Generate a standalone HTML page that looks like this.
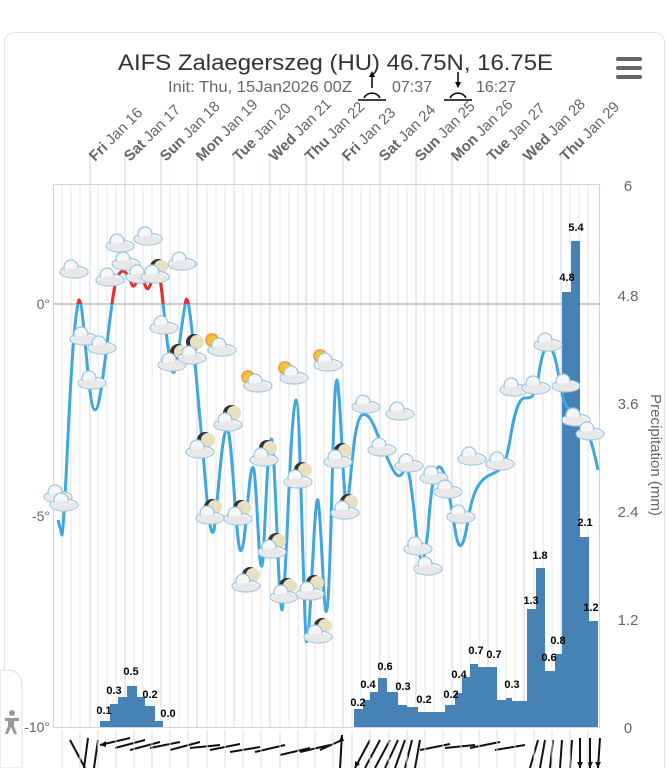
<!DOCTYPE html>
<html><head><meta charset="utf-8"><style>
html,body{margin:0;padding:0;background:#fff;}
svg{display:block;font-family:"Liberation Sans",sans-serif;}
</style></head><body>
<svg width="668" height="768" viewBox="0 0 668 768">
<defs>
<g id="c"><ellipse cx="0" cy="2" rx="14" ry="6" fill="#f4f6f8" stroke="#9ec6e0" stroke-width="1.2"/><circle cx="-3" cy="-3" r="7" fill="#f4f6f8" stroke="#9ec6e0" stroke-width="1.2"/><ellipse cx="0" cy="3" rx="13" ry="4.5" fill="#e8e8e8"/></g>
<g id="m"><circle r="8" fill="#333"/><circle cx="3" r="7" fill="#e8e0c0"/></g>
<g id="s"><circle r="7" fill="#f08a30" opacity="0.8"/><circle r="5" fill="#f7c522"/></g>
<clipPath id="top"><rect x="0" y="0" width="668" height="304"/></clipPath>
</defs>
<rect x="4.5" y="32.5" width="660" height="760" rx="10" fill="#fff" stroke="#e3e3e3"/>
<text x="118" y="70" font-size="22" fill="#333" textLength="435" lengthAdjust="spacingAndGlyphs">AIFS Zalaegerszeg (HU) 46.75N, 16.75E</text>
<text x="168" y="92" font-size="16" fill="#666" textLength="184" lengthAdjust="spacingAndGlyphs">Init: Thu, 15Jan2026 00Z</text>
<text x="392" y="92" font-size="16" fill="#666">07:37</text>
<text x="476" y="92" font-size="16" fill="#666">16:27</text>
<g stroke="#000" stroke-width="1.5" fill="none"><path d="M358 100h28M364 98a9 9 0 0 1 16 0M372 74v14M444 100h28M450 98a9 9 0 0 1 16 0M458 72v12"/></g>
<path d="M369 77l3-6 3 6zM455 82l3 6 3-6z" fill="#000"/>
<g fill="#666"><rect x="616" y="57" width="26" height="4" rx="2"/><rect x="616" y="66" width="26" height="4" rx="2"/><rect x="616" y="75" width="26" height="4" rx="2"/></g>
<g stroke="#e6e6e6" stroke-width="1">
<path d="M62 184V727M71 184V727M80 184V727M98 184V727M107 184V727M116 184V727M134 184V727M143 184V727M152 184V727M170 184V727M179 184V727M188 184V727M207 184V727M216 184V727M225 184V727M243 184V727M252 184V727M261 184V727M280 184V727M289 184V727M298 184V727M315 184V727M324 184V727M333 184V727M352 184V727M361 184V727M370 184V727M389 184V727M398 184V727M407 184V727M425 184V727M434 184V727M443 184V727M461 184V727M470 184V727M479 184V727M497 184V727M506 184V727M515 184V727M534 184V727M543 184V727M552 184V727M570 184V727M579 184V727M588 184V727"/>
</g>
<g stroke="#ccd6eb" stroke-width="1">
<path d="M90 155V727M125 155V727M161 155V727M197 155V727M234 155V727M270 155V727M306 155V727M343 155V727M380 155V727M416 155V727M452 155V727M488 155V727M524 155V727M561 155V727"/>
<rect x="53.5" y="184.5" width="546" height="543" fill="none"/>
</g>
<line x1="53" y1="304" x2="600" y2="304" stroke="#bbb" stroke-width="1.5"/>
<g font-size="15" fill="#666">
<g transform="translate(95,162) rotate(-45)"><text><tspan font-weight="bold">Fri</tspan> Jan 16</text></g>
<g transform="translate(130,162) rotate(-45)"><text><tspan font-weight="bold">Sat</tspan> Jan 17</text></g>
<g transform="translate(166,162) rotate(-45)"><text><tspan font-weight="bold">Sun</tspan> Jan 18</text></g>
<g transform="translate(202,162) rotate(-45)"><text><tspan font-weight="bold">Mon</tspan> Jan 19</text></g>
<g transform="translate(239,162) rotate(-45)"><text><tspan font-weight="bold">Tue</tspan> Jan 20</text></g>
<g transform="translate(275,162) rotate(-45)"><text><tspan font-weight="bold">Wed</tspan> Jan 21</text></g>
<g transform="translate(311,162) rotate(-45)"><text><tspan font-weight="bold">Thu</tspan> Jan 22</text></g>
<g transform="translate(348,162) rotate(-45)"><text><tspan font-weight="bold">Fri</tspan> Jan 23</text></g>
<g transform="translate(385,162) rotate(-45)"><text><tspan font-weight="bold">Sat</tspan> Jan 24</text></g>
<g transform="translate(421,162) rotate(-45)"><text><tspan font-weight="bold">Sun</tspan> Jan 25</text></g>
<g transform="translate(457,162) rotate(-45)"><text><tspan font-weight="bold">Mon</tspan> Jan 26</text></g>
<g transform="translate(493,162) rotate(-45)"><text><tspan font-weight="bold">Tue</tspan> Jan 27</text></g>
<g transform="translate(529,162) rotate(-45)"><text><tspan font-weight="bold">Wed</tspan> Jan 28</text></g>
<g transform="translate(566,162) rotate(-45)"><text><tspan font-weight="bold">Thu</tspan> Jan 29</text></g>
</g>
<g font-size="14" fill="#666" text-anchor="end">
<text x="50" y="309">0°</text><text x="50" y="521">-5°</text><text x="50" y="732">-10°</text>
</g>
<g font-size="15" fill="#666" text-anchor="middle">
<text x="628" y="191">6</text><text x="628" y="301">4.8</text><text x="628" y="409">3.6</text><text x="628" y="517">2.4</text><text x="628" y="625">1.2</text><text x="628" y="733">0</text>
</g>
<text transform="translate(651,455) rotate(90)" font-size="15" fill="#666" text-anchor="middle">Precipitation (mm)</text>
<g fill="#4682b4">
<rect x="100" y="721" width="10" height="6"/><rect x="110" y="704" width="8" height="23"/><rect x="118" y="697" width="9" height="30"/><rect x="127" y="686" width="10" height="41"/><rect x="137" y="697" width="8" height="30"/><rect x="145" y="706" width="10" height="21"/><rect x="155" y="721" width="8" height="6"/>
<rect x="354" y="709" width="9" height="18"/><rect x="363" y="700" width="7" height="27"/><rect x="370" y="692" width="8" height="35"/><rect x="378" y="678" width="9" height="49"/><rect x="387" y="692" width="11" height="35"/><rect x="398" y="705" width="9" height="22"/><rect x="407" y="707" width="11" height="20"/><rect x="418" y="712" width="27" height="15"/><rect x="445" y="705" width="10" height="22"/><rect x="455" y="693" width="7" height="34"/><rect x="462" y="677" width="8" height="50"/><rect x="470" y="664" width="8" height="63"/><rect x="478" y="667" width="19" height="60"/><rect x="497" y="700" width="9" height="27"/><rect x="506" y="698" width="6" height="29"/><rect x="512" y="701" width="15" height="26"/><rect x="527" y="609" width="9" height="118"/><rect x="536" y="568" width="9" height="159"/><rect x="545" y="671" width="10" height="56"/><rect x="555" y="654" width="7" height="73"/><rect x="562" y="292" width="9" height="435"/><rect x="571" y="241" width="9" height="486"/><rect x="580" y="537" width="9" height="190"/><rect x="589" y="621" width="9" height="106"/>
</g>
<g font-size="11" font-weight="bold" fill="#000" text-anchor="middle">
<text x="104" y="714">0.1</text><text x="114" y="694">0.3</text><text x="131" y="675">0.5</text><text x="150" y="698">0.2</text><text x="168" y="717">0.0</text>
<text x="358" y="706">0.2</text><text x="368" y="688">0.4</text><text x="385" y="670">0.6</text><text x="403" y="690">0.3</text><text x="424" y="703">0.2</text><text x="451" y="698">0.2</text><text x="459" y="678">0.4</text><text x="476" y="654">0.7</text><text x="494" y="658">0.7</text><text x="512" y="688">0.3</text><text x="531" y="604">1.3</text><text x="540" y="559">1.8</text><text x="549" y="661">0.6</text><text x="558" y="644">0.8</text><text x="567" y="281">4.8</text><text x="576" y="231">5.4</text><text x="585" y="526">2.1</text><text x="591" y="611">1.2</text>
</g>
<path id="t" fill="none" stroke="#3fa7e0" stroke-width="3" stroke-linejoin="round" d="M58 520 L62 535 C66 520 70 330 79 300 C84 300 88 410 95 410 C102 410 108 320 115 285 C120 265 126 268 132 285 C136 292 140 262 145 285 C150 300 153 265 158 270 C162 275 166 350 172 370 C176 385 180 330 186 300 C190 290 196 380 202 440 C206 490 210 545 214 530 C218 505 222 420 228 430 C232 440 236 540 240 550 C246 560 249 450 254 470 C258 500 259 590 263 560 C266 510 268 430 272 440 C276 470 278 600 282 610 C286 600 290 410 296 400 C300 400 302 560 306 640 C310 660 314 490 318 500 C322 520 324 650 328 600 C332 540 333 380 337 380 C341 390 343 520 348 500 C352 470 354 420 362 415 C372 410 378 440 386 455 C392 468 398 485 404 470 C408 460 411 480 416 530 C420 570 424 570 428 530 C431 490 434 465 440 467 C446 470 450 500 456 535 C460 555 464 545 468 520 C472 495 478 480 490 475 C500 470 505 470 510 440 C514 415 518 400 524 398 C530 398 534 400 538 380 C542 350 546 342 552 350 C558 360 560 395 566 405 C572 415 580 412 588 432 C592 444 596 460 598 470"/>
<path clip-path="url(#top)" fill="none" stroke="#e8302e" stroke-width="3" d="M58 520 L62 535 C66 520 70 330 79 300 C84 300 88 410 95 410 C102 410 108 320 115 285 C120 265 126 268 132 285 C136 292 140 262 145 285 C150 300 153 265 158 270 C162 275 166 350 172 370 C176 385 180 330 186 300 C190 290 196 380 202 440"/>
<use href="#c" x="74" y="270"/><use href="#c" x="110" y="278"/><use href="#c" x="120" y="244"/><use href="#c" x="148" y="237"/><use href="#c" x="126" y="262"/><use href="#c" x="140" y="275"/><use href="#c" x="182" y="262"/>
<use href="#m" x="158" y="267"/><use href="#c" x="155" y="275"/>
<use href="#c" x="84" y="337"/><use href="#c" x="102" y="346"/><use href="#c" x="92" y="381"/><use href="#c" x="164" y="326"/>
<use href="#m" x="178" y="352"/><use href="#m" x="194" y="342"/><use href="#c" x="172" y="363"/><use href="#c" x="192" y="356"/>
<use href="#s" x="212" y="340"/><use href="#c" x="222" y="348"/><use href="#s" x="248" y="377"/><use href="#c" x="258" y="384"/><use href="#s" x="285" y="368"/><use href="#c" x="294" y="376"/><use href="#s" x="320" y="356"/><use href="#c" x="328" y="363"/>
<use href="#m" x="205" y="440"/><use href="#c" x="200" y="450"/><use href="#m" x="231" y="413"/><use href="#c" x="228" y="423"/><use href="#m" x="212" y="507"/><use href="#c" x="210" y="516"/><use href="#m" x="241" y="508"/><use href="#c" x="238" y="517"/>
<use href="#m" x="250" y="575"/><use href="#c" x="246" y="584"/><use href="#m" x="267" y="448"/><use href="#c" x="264" y="458"/><use href="#m" x="276" y="541"/><use href="#c" x="272" y="550"/><use href="#m" x="302" y="470"/><use href="#c" x="298" y="480"/>
<use href="#m" x="287" y="586"/><use href="#c" x="284" y="595"/><use href="#m" x="314" y="583"/><use href="#c" x="310" y="592"/><use href="#m" x="322" y="626"/><use href="#c" x="318" y="635"/><use href="#m" x="342" y="451"/><use href="#c" x="338" y="460"/><use href="#m" x="348" y="502"/><use href="#c" x="345" y="511"/>
<use href="#c" x="58" y="495"/><use href="#c" x="64" y="503"/>
<use href="#c" x="366" y="405"/><use href="#c" x="400" y="412"/><use href="#c" x="382" y="448"/><use href="#c" x="409" y="464"/><use href="#c" x="434" y="476"/><use href="#c" x="448" y="490"/><use href="#c" x="461" y="515"/><use href="#c" x="418" y="547"/><use href="#c" x="428" y="567"/><use href="#c" x="472" y="457"/><use href="#c" x="500" y="462"/><use href="#c" x="514" y="388"/><use href="#c" x="536" y="386"/><use href="#c" x="548" y="343"/><use href="#c" x="566" y="384"/><use href="#c" x="576" y="418"/><use href="#c" x="590" y="432"/>
<g stroke="#111" stroke-width="2" fill="none">
<path d="M70 740L85 768M88 738L84 768M98 740L94 768M100 745L130 738M115 748L145 740M130 750L160 742M150 748L180 742M170 750L200 742M190 748L220 745M210 750L240 744M230 752L260 747M255 752L285 745M280 755L310 748M300 752L330 745M320 750L342 740M342 735L340 768M355 768L370 740M365 768L380 740M375 768L390 740M385 768L398 740M395 768L405 740M405 768L412 740M415 768L420 740M420 750L450 744M445 748L475 745M470 748L500 742M495 750L525 745M530 768L538 740M540 768L545 740M550 768L553 740M560 768L562 740M570 768L572 740M580 768L580 738M590 768L590 738M598 768L600 738"/>
</g>
<g fill="#111"><path d="M100 745l6-4 0 6zM342 735l-3 6 5 0zM355 768l0-7 5 3zM580 768l-3-6 6 0zM590 768l-3-6 6 0zM598 768l-3-6 6 0z"/></g>
<g stroke="#ddd" stroke-width="1"><path d="M62 730V768M80 730V768M98 730V768M116 730V768M134 730V768M152 730V768M170 730V768M188 730V768M207 730V768M225 730V768M243 730V768M261 730V768M280 730V768M298 730V768M315 730V768M333 730V768M352 730V768M370 730V768M389 730V768M407 730V768M425 730V768M443 730V768M461 730V768M479 730V768M497 730V768M515 730V768M534 730V768M552 730V768M570 730V768M588 730V768"/></g>
<path d="M0 670h8a14 14 0 0 1 14 14v84H0z" fill="#fff" stroke="#ddd"/>
<g fill="#999"><circle cx="12" cy="713" r="3"/><path d="M5 718h14v3h-5v5l3 8h-3l-3-7-3 7H5l3-8v-5H5z"/></g>
</svg>
</body></html>
